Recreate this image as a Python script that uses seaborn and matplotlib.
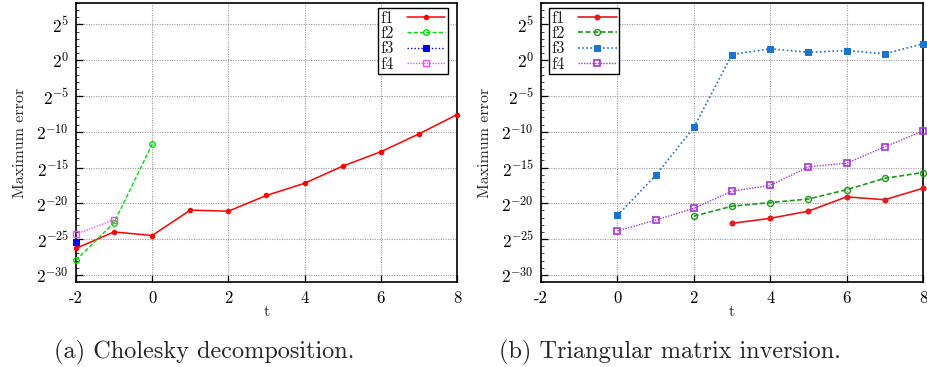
import numpy as np
import pandas as pd
import matplotlib
matplotlib.use("Agg")
import matplotlib.pyplot as plt
import seaborn as sns
from matplotlib.ticker import FixedLocator, FuncFormatter

# ---- data (log2 of maximum error) ----
a_f1_t = [-2, -1, 0, 1, 2, 3, 4, 5, 6, 7, 8]
a_f1_e = [-26.3, -24.0, -24.5, -20.95, -21.1, -18.9, -17.2, -14.8, -12.8, -10.3, -7.6]
a_f2_t = [-2, -1, 0]
a_f2_e = [-27.95, -22.7, -11.75]
a_f3_t = [-2]
a_f3_e = [-25.4]
a_f4_t = [-2, -1]
a_f4_e = [-24.3, -22.3]

b_f1_t = [3, 4, 5, 6, 7, 8]
b_f1_e = [-22.8, -22.1, -21.1, -19.1, -19.5, -17.9]
b_f2_t = [2, 3, 4, 5, 6, 7, 8]
b_f2_e = [-21.8, -20.4, -19.9, -19.4, -18.1, -16.5, -15.7]
b_f3_t = [0, 1, 2, 3, 4, 5, 6, 7, 8]
b_f3_e = [-21.7, -16.1, -9.4, 0.8, 1.6, 1.1, 1.35, 0.9, 2.3]
b_f4_t = [0, 1, 2, 3, 4, 5, 6, 7, 8]
b_f4_e = [-23.85, -22.35, -20.7, -18.3, -17.5, -14.9, -14.4, -12.1, -9.9]

series_names = ["f1", "f2", "f3", "f4"]
x_ticks = [-2, 0, 2, 4, 6, 8]
x_ticklabels = ["-2", "0", "2", "4", "6", "8"]
y_major_exp = [-30, -25, -20, -15, -10, -5, 0, 5]
captions = ["(a) Cholesky decomposition.", "(b) Triangular matrix inversion."]

sns.set_style("white")
plt.rcParams["font.family"] = ["cmr10", "DejaVu Serif"]
plt.rcParams["mathtext.fontset"] = "cm"
plt.rcParams["axes.unicode_minus"] = False
plt.rcParams["axes.formatter.use_mathtext"] = True

fig = plt.figure(figsize=(9.28, 3.67), dpi=100)
W, H = 928, 367
ax_a = fig.add_axes([76 / W, (H - 282) / H, 381 / W, 279 / H])
ax_b = fig.add_axes([541 / W, (H - 282) / H, 382 / W, 279 / H])

styles_a = [
    dict(color="#ff0000", linestyle="-", marker="o", markersize=3.2, markerfacecolor="#ff0000", lw=1.1),
    dict(color="#00dd00", linestyle=(0, (3, 1.5)), marker="o", markersize=4.0, markerfacecolor="none", lw=1.0, mew=1.0),
    dict(color="#0000ff", linestyle=(0, (1, 1.5)), marker="s", markersize=4.2, markerfacecolor="#0000ff", lw=1.0),
    dict(color="#ff44ff", linestyle=(0, (1, 1)), marker="s", markersize=4.2, markerfacecolor="none", lw=1.0, mew=1.0),
]
styles_b = [
    dict(color="#e41a1c", linestyle="-", marker="o", markersize=3.6, markerfacecolor="#e41a1c", lw=1.2),
    dict(color="#1a9a1a", linestyle=(0, (3, 1.5)), marker="o", markersize=4.3, markerfacecolor="none", lw=1.2, mew=1.0),
    dict(color="#1874cd", linestyle=(0, (1, 1.5)), marker="s", markersize=4.8, markerfacecolor="#1874cd", lw=1.2),
    dict(color="#a632e0", linestyle=(0, (1, 1)), marker="s", markersize=5.0, markerfacecolor="none", lw=1.0, mew=1.2),
]

data_a = [(a_f1_t, a_f1_e), (a_f2_t, a_f2_e), (a_f3_t, a_f3_e), (a_f4_t, a_f4_e)]
data_b = [(b_f1_t, b_f1_e), (b_f2_t, b_f2_e), (b_f3_t, b_f3_e), (b_f4_t, b_f4_e)]


def draw(ax, data, styles, legend_loc, anchor):
    for name, (t, e), st in zip(series_names, data, styles):
        df = pd.DataFrame({"t": t, "err": 2.0 ** np.array(e)})
        sns.lineplot(data=df, x="t", y="err", ax=ax, label=name, clip_on=False,
                     markeredgecolor=st["color"], zorder=3, **st)
    ax.set_yscale("log", base=2)
    ax.set_xlim(-2, 8)
    ax.set_ylim(2.0 ** -31, 2.0 ** 8)
    ax.xaxis.set_major_locator(FixedLocator(x_ticks))
    ax.set_xticklabels(x_ticklabels)
    ax.yaxis.set_major_locator(FixedLocator([2.0 ** k for k in y_major_exp]))
    ax.yaxis.set_major_formatter(FuncFormatter(lambda v, p: r"$2^{%d}$" % int(round(np.log2(v)))))
    ax.yaxis.set_minor_locator(FixedLocator([2.0 ** k for k in range(-31, 9)]))
    ax.yaxis.set_minor_formatter(FuncFormatter(lambda v, p: ""))
    ax.tick_params(axis="y", which="major", direction="in", length=5, width=0.9,
                   labelsize=12.5, colors="black", pad=5, left=True)
    ax.tick_params(axis="x", which="major", direction="in", length=5, width=0.9,
                   labelsize=12, colors="black", pad=6, bottom=True)
    ax.tick_params(axis="y", which="minor", direction="in", length=2.5, width=0.6, left=True)
    ax.grid(True, which="major", color="#999999", linestyle=(0, (1, 1.2)), linewidth=0.8)
    for s in ax.spines.values():
        s.set_color("black")
        s.set_linewidth(1.2)
    ax.set_xlabel("t", fontsize=11.5, labelpad=0)
    ax.set_ylabel("Maximum error", fontsize=11.5, labelpad=7)
    leg = ax.legend(loc=legend_loc, bbox_to_anchor=anchor, markerfirst=False, frameon=True,
                    fancybox=False, edgecolor="black", framealpha=1, fontsize=12,
                    handlelength=2.3, handletextpad=0.8, labelspacing=0.0,
                    borderpad=0.15, borderaxespad=0)
    leg.get_frame().set_linewidth(1.0)


draw(ax_a, data_a, styles_a, "upper right", (372 / 381, 1 - 5 / 279))
draw(ax_b, data_b, styles_b, "upper left", (8 / 382, 1 - 5 / 279))

fig.text(204 / W, 1 - 352 / H, captions[0], ha="center", va="center", fontsize=17.5)
fig.text(670 / W, 1 - 352 / H, captions[1], ha="center", va="center", fontsize=17.5)

fig.savefig("out.png", dpi=100)
